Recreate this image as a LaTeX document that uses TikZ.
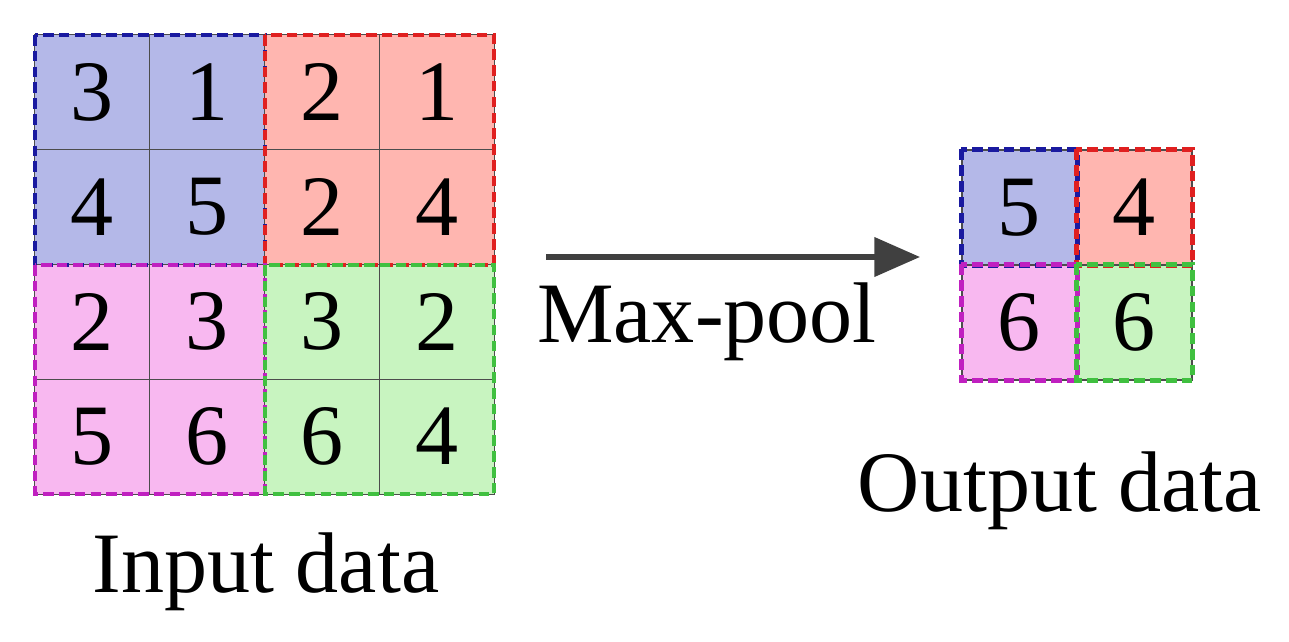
\documentclass[tikz,border=0pt]{standalone}
\usepackage{fontspec}
\setmainfont{Liberation Serif}
\usetikzlibrary{arrows.meta}
\definecolor{fb}{HTML}{B4B8E8}\definecolor{fr}{HTML}{FFB6B0}
\definecolor{fp}{HTML}{F8B8F0}\definecolor{fg}{HTML}{C8F4C0}
\definecolor{lb}{HTML}{1A1AA0}\definecolor{lr}{HTML}{E02020}
\definecolor{lp}{HTML}{C020C0}\definecolor{lg}{HTML}{40C040}
\definecolor{ar}{HTML}{404040}
\begin{document}
\begin{tikzpicture}[x=0.02cm,y=-0.02cm,
  big/.style={font=\fontsize{49}{52}\selectfont},
  cell/.style={draw=black!70,line width=0.6pt,minimum size=2.3cm,inner sep=0pt,big},
  qline/.style={line width=2.4pt,dash pattern=on 6pt off 3pt}]
\useasboundingbox (0,0) rectangle (1289,642);
\fill[fb] (35,35) rectangle (265,265);
\fill[fr] (265,35) rectangle (494,265);
\fill[fp] (35,265) rectangle (265,494);
\fill[fg] (265,265) rectangle (494,494);
\foreach \r/\row in {0/{3,1,2,1},1/{4,5,2,4},2/{2,3,3,2},3/{5,6,6,4}}{
  \foreach \v [count=\c from 0] in \row {
    \node[cell] (i\r\c) at ({35+57.4+114.75*\c},{35+57.4+114.75*\r}) {\v};
  }}
\draw[qline,lb] (35,35) rectangle (265,265);
\draw[qline,lr] (265,35) rectangle (494,265);
\draw[qline,lp] (35,265) rectangle (265,494);
\draw[qline,lg] (265,265) rectangle (494,494);
\node[cell,fill=fb] (o00) at (1019.5,207.5) {5};
\node[cell,fill=fr] (o01) at (1134.5,207.5) {4};
\node[cell,fill=fp] (o10) at (1019.5,322.5) {6};
\node[cell,fill=fg] (o11) at (1134.5,322.5) {6};
\draw[qline,lb] (o00.north west) rectangle (o00.south east);
\draw[qline,lr] (o01.north west) rectangle (o01.south east);
\draw[qline,lp] (o10.north west) rectangle (o10.south east);
\draw[qline,lg] (o11.north west) rectangle (o11.south east);
\coordinate (a1) at (546,257); \coordinate (a2) at (920,257);
\draw[ar,line width=3pt,-{Triangle[length=26pt,width=22pt]}] (a1) -- (a2);
\node[big] (mp) at (707,322) {Max-pool};
\node[big] (in) at (266,572) {Input data};
\node[big] (out) at (1060,491) {Output data};
\end{tikzpicture}
\end{document}
